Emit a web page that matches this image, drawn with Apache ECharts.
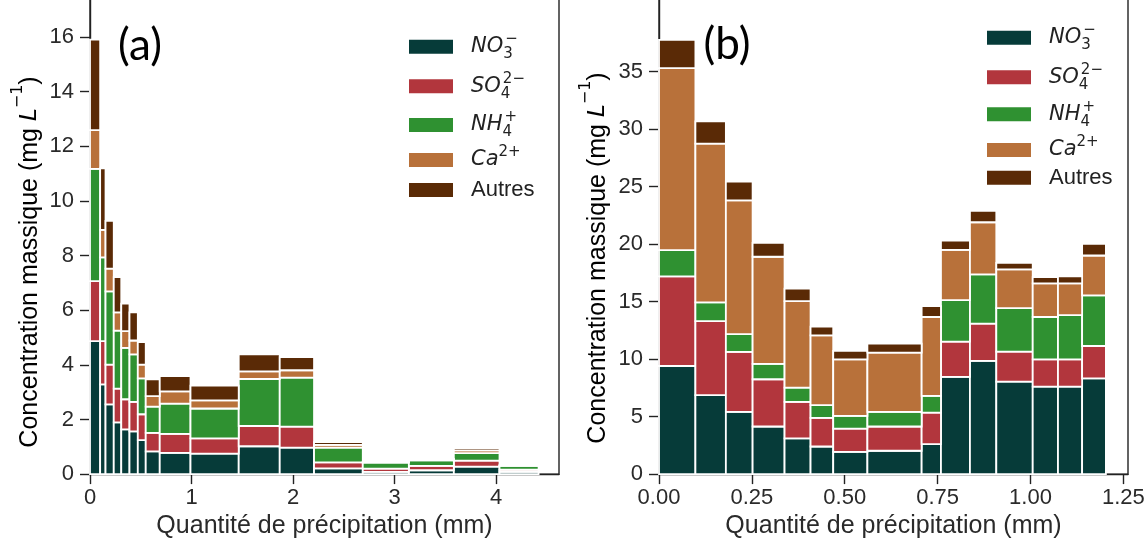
<!DOCTYPE html>
<html><head><meta charset="utf-8">
<script src="https://cdn.jsdelivr.net/npm/echarts@6/dist/echarts.min.js"></script>
<style>html,body{margin:0;padding:0;background:#fff;overflow:hidden;width:1148px;height:544px;position:relative}
#c{position:absolute;left:0;top:-60px;width:1148px;height:604px}</style>
</head><body><div id="c"></div><script>
// ---------- data ----------
const seriesNames = ['NO3-', 'SO42-', 'NH4+', 'Ca2+', 'Autres'];
const seriesColors = ['#063b39', '#b2363d', '#2f9131', '#b8713a', '#5a2a06'];

// Panel (a): bin edges (mm) and concentrations (mg/L) per component
const edgesA = [0, 0.100, 0.153, 0.234, 0.308, 0.389, 0.471, 0.549, 0.687, 0.990, 1.465, 1.869, 2.207, 2.687, 3.141, 3.584, 4.034, 4.419];
const no3A = [4.87, 3.28, 2.55, 1.89, 1.64, 1.56, 1.24, 0.83, 0.78, 0.75, 1.02, 0.97, 0.21, 0.08, 0.14, 0.27, 0.08];
const so4A = [2.19, 1.59, 1.46, 1.24, 1.10, 1.08, 0.95, 0.68, 0.69, 0.56, 0.74, 0.77, 0.22, 0.12, 0.16, 0.22, 0.08];
const nh4A = [4.11, 3.06, 2.68, 2.12, 1.88, 1.74, 1.31, 0.96, 1.11, 1.09, 1.72, 1.79, 0.54, 0.22, 0.20, 0.28, 0.14];
const caA  = [1.42, 1.01, 0.83, 0.67, 0.61, 0.51, 0.51, 0.38, 0.45, 0.30, 0.28, 0.27, 0.10, 0.02, 0.04, 0.10, 0.02];
const autA = [3.31, 2.25, 1.75, 1.29, 1.01, 1.03, 0.82, 0.62, 0.56, 0.54, 0.62, 0.48, 0.10, 0.01, 0.02, 0.08, 0.01];

// Panel (b)
const edgesB = [0, 0.098, 0.180, 0.252, 0.338, 0.408, 0.469, 0.561, 0.707, 0.759, 0.837, 0.908, 1.006, 1.074, 1.139, 1.203];
const no3B = [9.40, 6.86, 5.41, 4.14, 3.10, 2.40, 1.94, 2.03, 2.60, 8.45, 9.84, 8.04, 7.61, 7.61, 8.33];
const so4B = [7.80, 6.44, 5.21, 4.11, 3.18, 2.49, 2.02, 2.11, 2.75, 3.07, 3.24, 2.61, 2.37, 2.37, 2.81];
const nh4B = [2.27, 1.63, 1.56, 1.33, 1.24, 1.10, 1.10, 1.27, 1.45, 3.61, 4.28, 3.79, 3.68, 3.85, 4.40];
const caB  = [15.83, 13.80, 11.62, 9.32, 7.53, 6.08, 4.92, 5.15, 6.86, 4.37, 4.54, 3.36, 2.92, 2.75, 3.47];
const autB = [2.46, 1.94, 1.63, 1.21, 1.07, 0.75, 0.73, 0.78, 0.95, 0.81, 0.99, 0.57, 0.55, 0.61, 1.02];

// tick values / labels
const xTicksA = [0, 1, 2, 3, 4];
const xTickLabelsA = ['0', '1', '2', '3', '4'];
const yTicksA = [0, 2, 4, 6, 8, 10, 12, 14, 16];
const yTickLabelsA = ['0', '2', '4', '6', '8', '10', '12', '14', '16'];
const xTicksB = [0, 0.25, 0.5, 0.75, 1, 1.25];
const xTickLabelsB = ['0.00', '0.25', '0.50', '0.75', '1.00', '1.25'];
const yTicksB = [0, 5, 10, 15, 20, 25, 30, 35];
const yTickLabelsB = ['0', '5', '10', '15', '20', '25', '30', '35'];

const xTitle = 'Quantité de précipitation (mm)';

// ---------- chart ----------
const OFF = 60; // div is shifted up by OFF px
const chart = echarts.init(document.getElementById('c'), null, {renderer: 'canvas'});

function buildSeries(edges, comps, xi) {
  const out = [];
  const base = edges.slice(0, -1).map(() => 0);
  comps.forEach((vals, k) => {
    const data = vals.map((v, i) => {
      const d = [edges[i], edges[i + 1], base[i], base[i] + v];
      base[i] += v;
      return d;
    });
    const color = seriesColors[k];
    out.push({
      type: 'custom', name: seriesNames[k], xAxisIndex: xi, yAxisIndex: xi,
      itemStyle: {color: color}, data: data, animation: false, silent: true,
      encode: {x: [0, 1], y: [2, 3]},
      renderItem: function (params, api) {
        const p0 = api.coord([api.value(0), api.value(2)]);
        const p1 = api.coord([api.value(1), api.value(3)]);
        return {type: 'rect', shape: {x: p0[0], y: p1[1], width: p1[0] - p0[0], height: p0[1] - p1[1]},
          style: {fill: color, stroke: '#ffffff', lineWidth: 1.8}};
      }
    });
  });
  return out;
}

const fontMain = 'Liberation Sans, Arial, sans-serif';
const axisCol = '#222';
const labCol = '#2a2a2a';

function xAxis(gi, max, ticks, labels) {
  return {
    type: 'value', gridIndex: gi, min: 0, max: max,
    axisLine: {show: true, onZero: false, lineStyle: {color: axisCol, width: 1.4}},
    axisTick: {show: true, length: 10, customValues: ticks, lineStyle: {color: axisCol, width: 1.4}},
    axisLabel: {customValues: ticks, fontSize: 22, margin: 13, color: labCol, fontFamily: fontMain,
      formatter: v => { const i = ticks.findIndex(t => Math.abs(t - v) < 1e-9); return i >= 0 ? labels[i] : ''; }},
    splitLine: {show: false},
    name: xTitle, nameLocation: 'middle', nameGap: 38,
    nameTextStyle: {fontSize: 25, color: labCol, fontFamily: fontMain}
  };
}
function yAxis(gi, max, ticks, labels) {
  return {
    type: 'value', gridIndex: gi, min: 0, max: max,
    axisLine: {show: true, onZero: false, lineStyle: {color: axisCol, width: 1.4}},
    axisTick: {show: true, length: 10, customValues: ticks, lineStyle: {color: axisCol, width: 1.4}},
    axisLabel: {customValues: ticks, fontSize: 22, margin: 16, color: labCol, fontFamily: fontMain,
      formatter: v => { const i = ticks.findIndex(t => Math.abs(t - v) < 1e-9); return i >= 0 ? labels[i] : ''; }},
    splitLine: {show: false}
  };
}

// grids: page bottom 475 -> div 535 ; container height 604
const pxA = 27.375, pxB = 11.52;
const yMaxA = 18, yMaxB = 45;
const grids = [
  {left: 90, width: 469, top: 535 - yMaxA * pxA, height: yMaxA * pxA, show: true, borderColor: axisCol, borderWidth: 1.4},
  {left: 659, width: 469, top: 535 - yMaxB * pxB, height: yMaxB * pxB, show: true, borderColor: axisCol, borderWidth: 1.4}
];

// legend label rich text
const LH = 30;
const legendRich = {
  g: {width: 13, lineHeight: LH},
  i: {fontFamily: 'DejaVu Sans', fontStyle: 'italic', fontSize: 21, color: '#222', lineHeight: LH, verticalAlign: 'middle'},
  sb: {fontFamily: 'DejaVu Sans', fontSize: 15, color: '#222', verticalAlign: 'bottom', lineHeight: LH, width: 2, align: 'left'},
  sp: {fontFamily: 'DejaVu Sans', fontSize: 15, color: '#222', verticalAlign: 'top', lineHeight: LH},
  t: {fontFamily: fontMain, fontSize: 22, color: '#222', lineHeight: LH, verticalAlign: 'middle'}
};
const legendFmt = {
  'NO3-': '{g| }{i|NO}{sb|3}{sp|−}',
  'SO42-': '{g| }{i|SO}{sb|4}{sp|2−}',
  'NH4+': '{g| }{i|NH}{sb|4}{sp|+}',
  'Ca2+': '{g| }{i|Ca}{sp|2+}',
  'Autres': '{g| }{t|Autres}'
};
const rowsA = [46.7, 86.3, 125, 160, 194];
const rowsB = [37.7, 77.3, 114.3, 150, 181.7];
const legends = [];
function addLegends(x, rows) {
  seriesNames.forEach((n, k) => {
    legends.push({
      data: [n], left: x, top: rows[k] + OFF - LH / 2, padding: 0, itemWidth: 44, itemHeight: 14,
      icon: 'rect', selectedMode: false, itemGap: 0,
      formatter: nm => legendFmt[nm], textStyle: {rich: legendRich}
    });
  });
}
addLegends(409, rowsA);
addLegends(987, rowsB);

const yTitleRich = {
  a: {fontFamily: fontMain, fontSize: 25, color: labCol},
  l: {fontFamily: 'DejaVu Sans', fontStyle: 'italic', fontSize: 23, color: labCol},
  s: {fontFamily: 'DejaVu Sans', fontSize: 16, color: labCol, verticalAlign: 'top', padding: [-8, 0, 0, 0]}
};
const yTitleText = '{a|Concentration massique (mg }{l|L}{s|−1}{a|)}';

const graphics = [
  {type: 'text', x: 30, y: 262 + OFF, rotation: Math.PI / 2,
    style: {text: yTitleText, rich: yTitleRich, align: 'center', verticalAlign: 'middle'}},
  {type: 'text', x: 598, y: 258 + OFF, rotation: Math.PI / 2,
    style: {text: yTitleText, rich: yTitleRich, align: 'center', verticalAlign: 'middle'}},
  {type: 'text', x: 140, y: 46 + OFF,
    style: {text: '(a)', font: '44px Lato', fill: '#000', align: 'center', verticalAlign: 'middle'}},
  {type: 'text', x: 727, y: 45 + OFF,
    style: {text: '(b)', font: '44px Lato', fill: '#000', align: 'center', verticalAlign: 'middle'}}
];

const option = {
  backgroundColor: '#fff',
  animation: false,
  grid: grids,
  xAxis: [xAxis(0, 4.62, xTicksA, xTickLabelsA), xAxis(1, 1.2625, xTicksB, xTickLabelsB)],
  yAxis: [yAxis(0, yMaxA, yTicksA, yTickLabelsA), yAxis(1, yMaxB, yTicksB, yTickLabelsB)],
  legend: legends,
  graphic: graphics,
  series: buildSeries(edgesA, [no3A, so4A, nh4A, caA, autA], 0)
    .concat(buildSeries(edgesB, [no3B, so4B, nh4B, caB, autB], 1))
};
chart.setOption(option);
</script></body></html>
